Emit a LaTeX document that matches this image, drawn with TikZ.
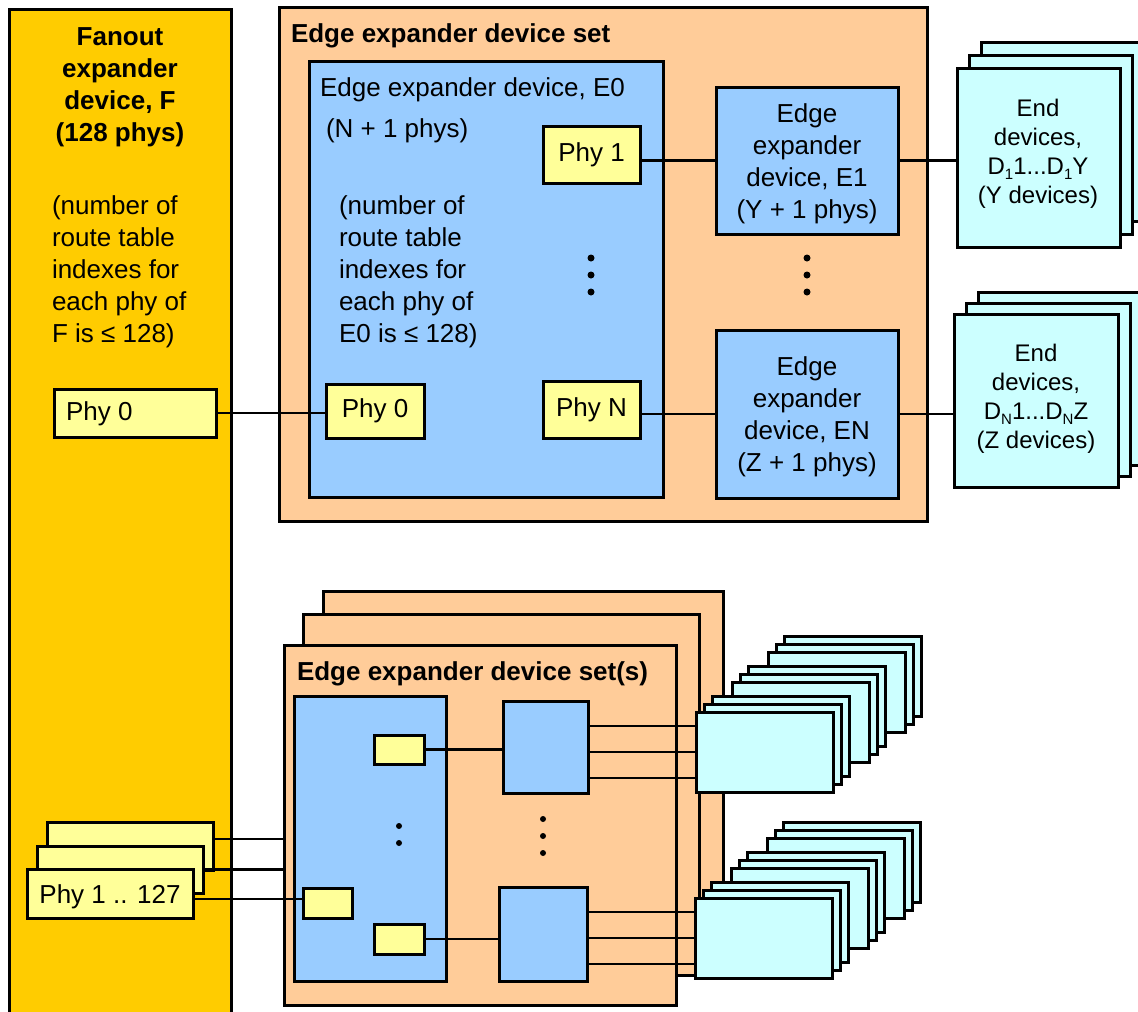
\documentclass[tikz,border=0pt]{standalone}
\usepackage{fontspec}
\setmainfont{Liberation Sans}
\usetikzlibrary{calc}
\definecolor{fan}{HTML}{FFCC00}
\definecolor{peach}{HTML}{FFCC99}
\definecolor{blu}{HTML}{99CCFF}
\definecolor{phyy}{HTML}{FFFF99}
\definecolor{cyn}{HTML}{CCFFFF}
\newcommand\bx[7]{\node[#2, minimum width={(#5-#3)*1pt}, minimum height={(#6-#4)*1pt}] (#1) at ({(#3+#5)/2},{(#4+#6)/2}) {#7};}
\newcommand\lowsub[1]{\raisebox{-0.35ex}{\fontsize{15}{15}\selectfont #1}}
\begin{document}
\begin{tikzpicture}[x=1pt,y=-1pt,
 box/.style={draw, line width=3pt, rectangle, inner sep=0pt, outer sep=0pt},
 fanbox/.style={box, fill=fan},
 setbox/.style={box, fill=peach},
 devbox/.style={box, fill=blu},
 phybox/.style={box, fill=phyy, font=\fontsize{26}{32}\selectfont},
 endbox/.style={box, fill=cyn},
 wire/.style={line width=2.5pt},
 dotmark/.style={circle, fill=black, draw=none, inner sep=0pt, minimum size=7pt},
 txt/.style={inner sep=0pt, outer sep=0pt, yshift=-3pt, font=\fontsize{26}{32}\selectfont},
 btxt/.style={inner sep=0pt, outer sep=0pt, yshift=-3pt, font=\fontsize{26}{32}\selectfont\bfseries},
 etxt/.style={inner sep=0pt, yshift=-2pt, font=\fontsize{24}{29}\selectfont, align=center},
]
\useasboundingbox (0,0) rectangle (1138,1012);
\clip (0,0) rectangle (1138,1012);

% Fanout expander
\bx{fan}{fanbox}{9}{9}{231}{1040}{}
\node[btxt, align=center] (fantitle) at (120,84) {Fanout\\expander\\device, F\\(128 phys)};
\node[txt, align=left, anchor=west] (fannote) at (52,269) {(number of\\route table\\indexes for\\each phy of\\F is ≤ 128)};
\bx{fp0}{phybox}{54}{389}{216}{437}{}
\node[txt, anchor=west, yshift=2pt] (fp0t) at ($(fp0.west)+(12,0)$) {Phy 0};

% top edge expander device set
\bx{set}{setbox}{279}{7}{927}{521}{}
\node[btxt, anchor=west] (settitle) at (291,33) {Edge expander device set};
\bx{e0}{devbox}{309}{61}{663}{497}{}
\node[txt, anchor=west] (e0t) at (320,87) {Edge expander device, E0};
\node[txt, anchor=west] (e0p) at (326,128) {(N + 1 phys)};
\node[txt, align=left, anchor=west] (e0n) at (339,269) {(number of\\route table\\indexes for\\each phy of\\E0 is ≤ 128)};
\bx{p1}{phybox}{543}{126}{640}{183}{Phy 1}
\bx{pN}{phybox}{543}{381}{640}{438}{Phy N}
\bx{ep0}{phybox}{326}{384}{424}{438}{Phy 0}
\foreach \yy [count=\i] in {258,275,292} \node[dotmark] (da\i) at (591,\yy) {};
\bx{e1}{devbox}{716}{87}{898}{234}{}
\node[txt, align=center] (e1t) at (e1) {Edge\\expander\\device, E1\\(Y + 1 phys)};
\bx{eN}{devbox}{716}{330}{898}{498}{}
\node[txt, align=center] (eNt) at (eN) {Edge\\expander\\device, EN\\(Z + 1 phys)};
\foreach \yy [count=\i] in {258,275,292} \node[dotmark] (db\i) at (807,\yy) {};

% end devices (top)
\bx{d1c}{endbox}{981}{42}{1144}{221}{}
\bx{d1b}{endbox}{969}{55}{1132}{234}{}
\bx{d1}{endbox}{957}{68}{1120}{247}{}
\node[etxt] (d1t) at (1038,152) {End\\devices,\\D\lowsub{1}1...D\lowsub{1}Y\\(Y devices)};
\bx{d2c}{endbox}{978}{292}{1142}{465}{}
\bx{d2b}{endbox}{966}{303}{1130}{476}{}
\bx{d2}{endbox}{954}{314}{1118}{487}{}
\node[etxt] (d2t) at (1036,397) {End\\devices,\\D\lowsub{N}1...D\lowsub{N}Z\\(Z devices)};

% top connectors
\draw[wire] (fp0.east) -- (fp0.east -| ep0.west);
\draw[wire] (p1.east |- e1.west) -- (e1.west);
\draw[wire] (e1.east) -- (e1.east -| d1.west);
\draw[wire] (pN.east |- eN.west) -- (eN.west);
\draw[wire] (eN.east) -- (eN.east -| d2.west);

% bottom edge expander device sets
\bx{sc}{setbox}{323}{591}{723}{968}{}
\bx{sb}{setbox}{303}{614}{699}{975}{}
\bx{sa}{setbox}{284}{645}{676}{1005}{}
\node[btxt, anchor=west] (sattitle) at (297,671) {Edge expander device set(s)};
\bx{bb0}{devbox}{294}{696}{446}{981}{}
\bx{sy1}{phybox}{374}{735}{424}{764}{}
\bx{sy2}{phybox}{303}{888}{352}{918}{}
\bx{sy3}{phybox}{374}{924}{424}{954}{}
\foreach \yy [count=\i] in {826,843} \node[dotmark, minimum size=6pt] (dc\i) at (399,\yy) {};
\bx{bb1}{devbox}{503}{701}{588}{793}{}
\bx{bb2}{devbox}{499}{887}{587}{981}{}
\foreach \yy [count=\i] in {819,836,853} \node[dotmark, minimum size=6pt] (dd\i) at (543,\yy) {};

% phy 1..127 stack
\bx{ph3}{phybox}{47}{822}{213}{870}{}
\bx{ph2}{phybox}{37}{846}{203}{893}{}
\bx{ph1}{phybox}{27}{869}{193}{918}{}
\node[txt] (ph1t) at (ph1) {Phy 1 .. 127};

% bottom connectors
\coordinate (q1) at ($(ph3.east)+(0,-7)$);
\draw[wire] (q1) -- (q1 -| sa.west);
\draw[wire] (ph2.east) -- (ph2.east -| sa.west);
\coordinate (q3) at ($(sy2.west)+(0,-4)$);
\draw[wire] (q3 -| ph1.east) -- (q3);
\draw[wire] (sy1.east) -- (sy1.east -| bb1.west);
\draw[wire] (sy3.east) -- (sy3.east -| bb2.west);

% cyan end device stacks (bottom)
\foreach \g in {2,1,0} {
  \foreach \k in {2,1,0} {
    \pgfmathsetmacro\lx{696+36*\g+8*\k}
    \pgfmathsetmacro\ty{712-30*\g-8*\k}
    \node[endbox, minimum width=137pt, minimum height=80pt, anchor=north west] (cA\g\k) at (\lx,\ty) {};
    \pgfmathsetmacro\tyb{\ty+186}
    \pgfmathsetmacro\lxb{\lx-1}
    \node[endbox, minimum width=137pt, minimum height=80pt, anchor=north west] (cB\g\k) at (\lxb,\tyb) {};
  }
}
\foreach \o in {-21,5,31} {
  \coordinate (ra) at ($(bb1.east)+(0,\o)$);
  \draw[wire] (ra) -- (ra -| cA00.west);
}
\foreach \o in {-22,4,30} {
  \coordinate (rb) at ($(bb2.east)+(0,\o)$);
  \draw[wire] (rb) -- (rb -| cB00.west);
}
\end{tikzpicture}
\end{document}
